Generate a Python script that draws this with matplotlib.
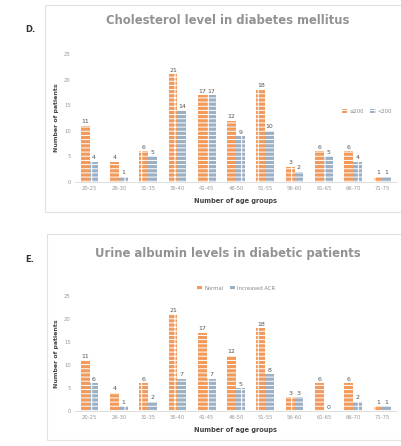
import matplotlib
matplotlib.use("Agg")
import matplotlib.pyplot as plt
import numpy as np
from matplotlib.patches import Rectangle

# age groups on the x axis
age_groups = ["20-25", "26-30", "31-35", "36-40", "41-45", "46-50",
              "51-55", "56-60", "61-65", "66-70", "71-75"]

# D. cholesterol
chol_high = [11, 4, 6, 21, 17, 12, 18, 3, 6, 6, 1]
chol_low = [4, 1, 5, 14, 17, 9, 10, 2, 5, 4, 1]
chol_labels = ["\u2265200", "<200"]

# E. urine albumin
alb_a = [11, 4, 6, 21, 17, 12, 18, 3, 6, 6, 1]
alb_b = [6, 1, 2, 7, 7, 5, 8, 3, 0, 2, 1]
alb_labels = ["Normal", "Increased ACR"]

yticks = [0, 5, 10, 15, 20, 25]

plt.rcParams["hatch.linewidth"] = 0.7
plt.rcParams["font.family"] = "DejaVu Sans"

W, H = 402, 446
fig = plt.figure(figsize=(W / 100, H / 100), dpi=100)

orange = "#F19A5C"
blue = "#9DAFC3"


def px(x0, y0, x1, y1):
    # pixel box (top-left origin) -> figure fraction
    return [x0 / W, 1 - y1 / H, (x1 - x0) / W, (y1 - y0) / H]


def panel(frame, axbox, letter, letter_y, title, title_y, title_size, a, b, labels, legend_loc):
    fx0, fy0, fx1, fy1 = frame
    fig.patches.append(Rectangle((fx0 / W, 1 - fy1 / H), (fx1 - fx0) / W, (fy1 - fy0) / H,
                                 transform=fig.transFigure, fill=False,
                                 edgecolor="#E2E2E2", linewidth=0.8))
    fig.text(25 / W, 1 - letter_y / H, letter, fontsize=6, fontweight="bold",
             color="#333333", ha="left", va="center")
    fig.text(228 / W, 1 - title_y / H, title, fontsize=title_size, fontweight="bold",
             color="#929292", ha="center", va="center")

    ax = fig.add_axes(px(*axbox))
    x = np.arange(len(age_groups))
    w = 0.3
    b1 = ax.bar(x - w / 2, a, w, color=orange, edgecolor="white", linewidth=0,
                hatch="----|", label=labels[0])
    b2 = ax.bar(x + w / 2, b, w, color=blue, edgecolor="white", linewidth=0,
                hatch="----|", label=labels[1])
    ax.bar_label(b1, fontsize=4.5, color="#555555", padding=1)
    ax.bar_label(b2, fontsize=4.5, color="#555555", padding=1)

    ax.set_xlim(-0.5, len(age_groups) - 0.5)
    ax.set_ylim(0, 25)
    ax.set_yticks(yticks)
    ax.set_xticks(x)
    ax.set_xticklabels(age_groups)
    ax.tick_params(axis="both", labelsize=3.8, colors="#999999", length=0, pad=3)
    for s in ["top", "right", "left"]:
        ax.spines[s].set_visible(False)
    ax.spines["bottom"].set_color("#D9D9D9")
    ax.spines["bottom"].set_linewidth(0.6)
    ax.set_ylabel("Number of patients", fontsize=4.5, fontweight="bold", color="#444444", labelpad=4)
    ax.set_xlabel("Number of age groups", fontsize=4.8, fontweight="bold", color="#444444", labelpad=5)
    ax.legend(loc=legend_loc[0], bbox_to_anchor=legend_loc[1], ncol=2, fontsize=3.8,
              frameon=False, handlelength=1.0, handleheight=0.8, columnspacing=1.2,
              handletextpad=0.4, labelcolor="#888888")
    return ax


panel((45, 5, 402, 212), (75, 54, 397, 182), "D.", 30,
      "Cholesterol level in diabetes mellitus", 20, 8.4,
      chol_high, chol_low, chol_labels, ("center right", (1.0, 0.55)))

panel((47, 234, 402, 440), (75, 296, 397, 411), "E.", 260,
      "Urine albumin levels in diabetic patients", 253, 8.4,
      alb_a, alb_b, alb_labels, ("upper center", (0.5, 1.13)))

fig.savefig("out.png", dpi=100, facecolor="white")
